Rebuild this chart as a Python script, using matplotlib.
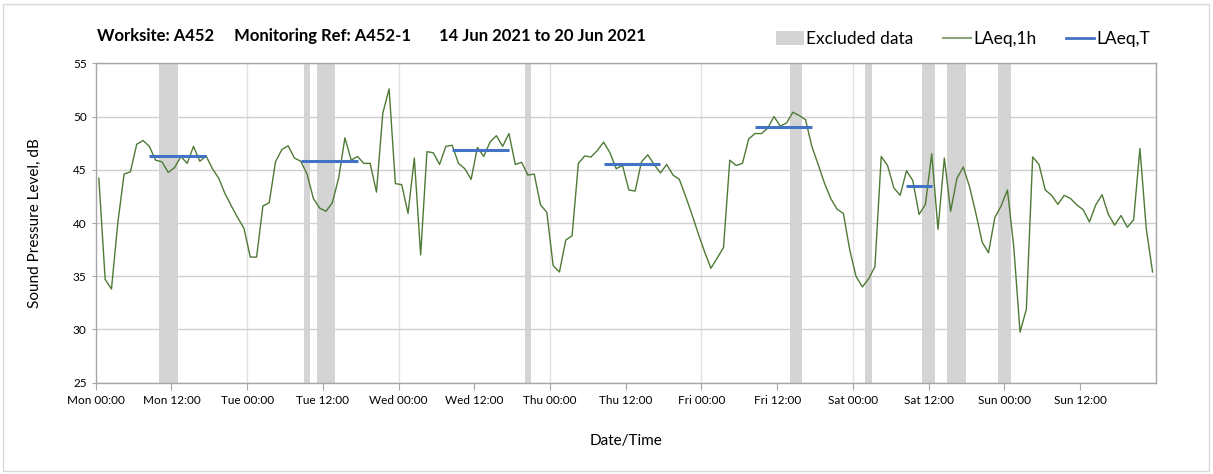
import numpy as np
import pandas as pd
import matplotlib
matplotlib.use("Agg")
import matplotlib.pyplot as plt
import matplotlib.dates as mdates
from matplotlib.patches import Patch, Rectangle
from matplotlib.lines import Line2D

plt.rcParams['font.family'] = ['Lato', 'DejaVu Sans']

# hourly LAeq,1h values, Mon 14 Jun 2021 00:30 onwards
laeq_1h = [
    44.2, 34.7, 33.8, 40.0, 44.6, 44.8, 47.4, 47.75, 47.2, 45.9,
    45.75, 44.75, 45.2, 46.25, 45.6, 47.2, 45.8, 46.3, 45.1, 44.2,
    42.75, 41.6, 40.5, 39.5, 36.8, 36.8, 41.6, 41.9, 45.75, 46.9,
    47.25, 46.1, 45.8, 44.6, 42.3, 41.4, 41.1, 41.9, 44.2, 48.0,
    45.9, 46.25, 45.6, 45.6, 42.9, 50.3, 52.6, 43.7, 43.6, 40.9,
    46.1, 37.0, 46.7, 46.6, 45.5, 47.2, 47.3, 45.6, 45.1, 44.1,
    47.1, 46.25, 47.6, 48.2, 47.2, 48.4, 45.5, 45.7, 44.5, 44.6,
    41.7, 41.0, 36.0, 35.4, 38.4, 38.8, 45.6, 46.3, 46.2, 46.8,
    47.6, 46.6, 45.1, 45.4, 43.1, 43.0, 45.75, 46.4, 45.5, 44.7,
    45.5, 44.5, 44.1, 42.5, 40.8, 39.0, 37.3, 35.75, 36.7, 37.7,
    45.9, 45.4, 45.6, 47.9, 48.4, 48.4, 48.9, 50.0, 49.1, 49.4,
    50.4, 50.1, 49.7, 47.2, 45.5, 43.75, 42.3, 41.3, 40.9, 37.5,
    35.0, 34.0, 34.75, 35.9, 46.25, 45.4, 43.3, 42.6, 44.9, 44.0,
    40.8, 41.75, 46.5, 39.4, 46.1, 41.1, 44.2, 45.25, 43.4, 40.9,
    38.2, 37.2, 40.5, 41.6, 43.1, 37.8, 29.75, 31.9, 46.2, 45.5,
    43.1, 42.6, 41.75, 42.6, 42.3, 41.7, 41.25, 40.1, 41.7, 42.65,
    40.8, 39.8, 40.7, 39.6, 40.3, 47.0, 39.5, 35.4,
]
times = pd.date_range("2021-06-14 00:30", periods=len(laeq_1h), freq="h")

# LAeq,T periods (start, end, level)
laeq_t_start = ["2021-06-14 08:30", "2021-06-15 08:30", "2021-06-16 08:30",
                "2021-06-17 08:30", "2021-06-18 08:30", "2021-06-19 08:30"]
laeq_t_end = ["2021-06-14 17:30", "2021-06-15 17:30", "2021-06-16 17:30",
              "2021-06-17 17:30", "2021-06-18 17:30", "2021-06-19 12:30"]
laeq_t = [46.3, 45.8, 46.9, 45.5, 49.0, 43.5]

# excluded data periods
excl_start = ["2021-06-14 10:00", "2021-06-15 09:00", "2021-06-15 11:00",
              "2021-06-16 20:00", "2021-06-18 14:00", "2021-06-19 02:00",
              "2021-06-19 11:00", "2021-06-19 15:00", "2021-06-19 23:00"]
excl_end = ["2021-06-14 13:00", "2021-06-15 10:00", "2021-06-15 14:00",
            "2021-06-16 21:00", "2021-06-18 16:00", "2021-06-19 03:00",
            "2021-06-19 13:00", "2021-06-19 18:00", "2021-06-20 01:00"]

green = "#4f7a35"
blue = "#4472c4"
grey = "#d4d4d4"

fig = plt.figure(figsize=(12.13, 4.74), dpi=100)
ax = fig.add_axes([95.7 / 1213, 1 - 382.7 / 474, 1060 / 1213, 319.4 / 474])

for s, e in zip(excl_start, excl_end):
    ax.axvspan(pd.Timestamp(s), pd.Timestamp(e), color=grey, lw=0, zorder=1)

ax.plot(times, laeq_1h, color=green, lw=1.0, zorder=3)
for s, e, v in zip(laeq_t_start, laeq_t_end, laeq_t):
    ax.plot([pd.Timestamp(s), pd.Timestamp(e)], [v, v], color=blue, lw=2.2,
            solid_capstyle="butt", zorder=4)

ax.set_xlim(pd.Timestamp("2021-06-14 00:00"), pd.Timestamp("2021-06-21 00:00"))
ax.set_ylim(25, 55)
ax.set_yticks(np.arange(25, 56, 5))
ax.xaxis.set_major_locator(mdates.HourLocator(byhour=[0, 12]))
ax.xaxis.set_major_formatter(mdates.DateFormatter("%a %H:%M"))
ax.set_xticks(ax.get_xticks()[:-1])

ax.grid(axis="y", color="#cfcfcf", lw=1.0, zorder=0)
for d in pd.date_range("2021-06-15", periods=6, freq="D"):
    ax.axvline(d, color="#e2e2e2", lw=1.0, zorder=0)
ax.set_axisbelow(True)

for side in ["left", "right", "top", "bottom"]:
    ax.spines[side].set_color("#a6a6a6")
    ax.spines[side].set_linewidth(1.0)
ax.tick_params(axis="x", length=5, color="#a6a6a6", labelsize=8.5, pad=4)
ax.tick_params(axis="y", length=3, color="#a6a6a6", labelsize=8.5)

ax.set_ylabel("Sound Pressure Level, dB", fontsize=11, labelpad=22)
ax.set_xlabel("Date/Time", fontsize=11, labelpad=20)

fig.text(97 / 1213, 1 - 36 / 474,
         "Worksite: A452     Monitoring Ref: A452-1       14 Jun 2021 to 20 Jun 2021",
         fontsize=12, fontweight="bold", va="center", ha="left")

handles = [Patch(facecolor=grey, edgecolor="none"),
           Line2D([], [], color="#8aa67a", lw=1.5),
           Line2D([], [], color=blue, lw=2)]
fig.legend(handles, ["Excluded data", "LAeq,1h", "LAeq,T"], ncol=3, frameon=False,
           loc="center right", bbox_to_anchor=(1166 / 1213, 1 - 39 / 474),
           fontsize=12.5, handlelength=1.6, handletextpad=0.15, columnspacing=1.7,
           handleheight=0.8)

fig.patches.append(Rectangle((3 / 1213, 3 / 474), 1206 / 1213, 467 / 474,
                             transform=fig.transFigure, fill=False,
                             edgecolor="#d9d9d9", lw=1))

fig.savefig("out.png", dpi=100)
